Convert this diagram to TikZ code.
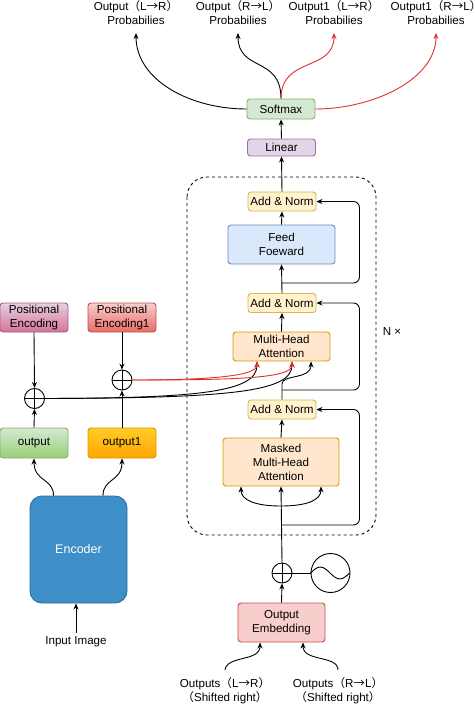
\documentclass[tikz,border=0pt]{standalone}
\usepackage{fontspec}
\setmainfont{Liberation Sans}
\newfontfamily\cjk{Noto Sans CJK SC}
\usetikzlibrary{arrows.meta,positioning,calc}

\definecolor{addfill}{HTML}{FFF2CC}\definecolor{addline}{HTML}{D6B656}
\definecolor{mhafill}{HTML}{FFE6CC}\definecolor{mhaline}{HTML}{D79B00}
\definecolor{fffill}{HTML}{DAE8FC}\definecolor{ffline}{HTML}{6C8EBF}
\definecolor{linfill}{HTML}{E1D5E7}\definecolor{linline}{HTML}{9673A6}
\definecolor{smfill}{HTML}{D5E8D4}\definecolor{smline}{HTML}{82B366}
\definecolor{embfill}{HTML}{F8CECC}\definecolor{embline}{HTML}{B85450}
\definecolor{encfill}{HTML}{3E8FC8}\definecolor{encline}{HTML}{2F6EA0}
\definecolor{redline}{HTML}{E0302A}
\definecolor{outbot}{HTML}{97D077}
\definecolor{otop}{HTML}{FFCD28}\definecolor{obot}{HTML}{FFA500}
\definecolor{petop}{HTML}{E6D0DE}\definecolor{pebot}{HTML}{D5739D}\definecolor{peline}{HTML}{996185}
\definecolor{pe1bot}{HTML}{EA6B66}

\newcommand{\lp}{{\cjk （}}
\newcommand{\rp}{{\cjk ）}}
\newcommand{\ra}{{\cjk →}}

\begin{document}
\begin{tikzpicture}[x=1pt,y=-1pt,line width=0.9pt,font=\fontsize{11.6}{14}\selectfont,
    box/.style={draw,rounded corners=3pt,align=center,inner sep=1pt},
    addnorm/.style={box,fill=addfill,draw=addline,minimum width=68pt,minimum height=19pt},
    mhabox/.style={box,fill=mhafill,draw=mhaline},
    arr/.style={-{Stealth[length=6pt,width=5pt]}},
    toplbl/.style={align=center,inner xsep=0pt,inner ysep=8pt,anchor=south},
    botlbl/.style={align=center,inner xsep=0pt,inner ysep=7pt,anchor=north},
    plus/.style={draw,circle,minimum size=20pt,inner sep=0pt,
      path picture={\draw (path picture bounding box.north) -- (path picture bounding box.south)
        (path picture bounding box.west) -- (path picture bounding box.east);}}]
\useasboundingbox (0,0) rectangle (474,704);

% decoder stack
\draw[dashed,dash pattern=on 3pt off 3pt,rounded corners=20pt] (187,177) rectangle (376,535);
\node (nx) at (392,332) {N ×};
\node[addnorm] (an3) at (282,201.5) {Add \& Norm};
\node[box,fill=fffill,draw=ffline,minimum width=107pt,minimum height=39pt] (ff) at (281.5,244.5) {Feed\\Foeward};
\node[addnorm] (an2) at (282,303) {Add \& Norm};
\node[mhabox,minimum width=97pt,minimum height=29pt] (mha) at (281.5,346.5) {Multi-Head\\Attention};
\node[addnorm] (an1) at (282,409.5) {Add \& Norm};
\node[mhabox,minimum width=116pt,minimum height=48pt] (mmha) at (281,462) {Masked\\Multi-Head\\Attention};

% top
\node[box,fill=linfill,draw=linline,minimum width=68pt,minimum height=17pt] (lin) at (281.5,147.5) {Linear};
\node[box,fill=smfill,draw=smline,minimum width=68pt,minimum height=20pt] (sm) at (281,109) {Softmax};
\node[toplbl] (p1) at (136,33) {Output\lp L\ra R\rp\\Probabilies};
\node[toplbl] (p2) at (238,33) {Output\lp R\ra L\rp\\Probabilies};
\node[toplbl] (p3) at (334,33) {Output1\lp L\ra R\rp\\Probabilies};
\node[toplbl] (p4) at (436,33) {Output1\lp R\ra L\rp\\Probabilies};

% bottom
\node[plus] (pe0) at (282,573) {};
\node[draw,circle,minimum size=39pt,inner sep=0pt] (sine) at (330.5,573) {};
\node[box,fill=embfill,draw=embline,minimum width=87pt,minimum height=39pt] (emb) at (281.5,622.5) {Output\\Embedding};
\node[botlbl] (s1) at (225,670) {Outputs\lp L\ra R\rp\\\lp Shifted right\rp};
\node[botlbl] (s2) at (338,670) {Outputs\lp R\ra L\rp\\\lp Shifted right\rp};

% encoder side
\node[box,rounded corners=12pt,fill=encfill,draw=encline,text=white,minimum width=97pt,minimum height=107pt,font=\fontsize{12.5}{14}\selectfont] (enc) at (78.5,549.5) {Encoder};
\node (img) at (76,642) {Input Image};
\node[box,top color=smfill,bottom color=outbot,draw=smline,minimum width=68pt,minimum height=30pt] (out) at (34,443) {output};
\node[box,top color=otop,bottom color=obot,draw=mhaline,minimum width=68pt,minimum height=30pt] (out1) at (122,443) {output1};
\node[box,top color=petop,bottom color=pebot,draw=peline,minimum width=68pt,minimum height=29pt] (pe) at (34,317.5) {Positional\\Encoding};
\node[box,top color=embfill,bottom color=pe1bot,draw=embline,minimum width=68pt,minimum height=29pt] (pe1) at (122,317.5) {Positional\\Encoding1};
\node[plus] (peL) at (34.5,398.5) {};
\node[plus] (peR) at (122,380) {};

% wave
\draw (sine.west) sin ++(9.75,-6) cos ++(9.75,6) sin ++(9.75,6) cos ++(9.75,-6);

% connectors
\draw[arr] (s1.north) .. controls (227,655) and (260,662) .. ($(emb.south)+(-21.5,0)$);
\draw[arr] (s2.north) .. controls (338,655) and (303,662) .. ($(emb.south)+(21.5,0)$);
\draw[arr] (emb.north) -- (pe0.south);
\draw (pe0.east) -- (sine.west);
\draw[arr] (pe0.north) -- (mmha.south);
\coordinate (m0) at (281,506);
\draw[arr] (m0) .. controls (255,506) and (241,500) .. ($(mmha.south)+(-40,0)$);
\draw[arr] (m0) .. controls (307,506) and (321,500) .. ($(mmha.south)+(40,0)$);
\coordinate (r1) at (282,525);
\draw[arr,rounded corners=6pt] (r1) -| ($(an1.east)+(43,0)$) -- (an1.east);
\draw[arr] (mmha.north) -- (an1.south);
\coordinate (r2) at (282,390);
\draw[arr,rounded corners=6pt] (r2) -| ($(an2.east)+(43,0)$) -- (an2.east);
\draw[arr] (an1.north) -- (282,384) .. controls (282,374) and (311,380) .. ($(mha.south)+(29.5,0)$);
\draw[arr] (mha.north) -- (an2.south);
\draw[arr] (an2.north) -- (ff.south);
\coordinate (r3) at (282,283);
\draw[arr,rounded corners=6pt] (r3) -| ($(an3.east)+(43,0)$) -- (an3.east);
\draw[arr] (ff.north) -- (an3.south);
\draw[arr] (an3.north) -- (lin.south);
\draw[arr] (lin.north) -- (sm.south);
\draw[arr] (sm.west) .. controls (190,109) and (136,80) .. (p1.south);
\draw[arr] (sm.north) .. controls (281,56) and (238,72) .. (p2.south);
\draw[arr,redline] (sm.north) .. controls (281,56) and (334,72) .. (p3.south);
\draw[arr,redline] (sm.east) .. controls (372,109) and (436,80) .. (p4.south);

% encoder outputs
\draw[arr] (img.north) -- (img.north |- enc.south);
\draw[arr] ($(enc.north)+(-25,0)$) .. controls (53.5,478) and (34,482) .. (out.south);
\draw[arr] ($(enc.north)+(24.5,0)$) .. controls (103,478) and (122,482) .. (out1.south);
\draw[arr] (out.north) -- (peL.south);
\draw[arr] (out1.north) -- (peR.south);
\draw[arr] (pe.south) -- (peL.north);
\draw[arr] (pe1.south) -- (peR.north);
\draw[arr] (peL.east) .. controls (200,398) and (257,392) .. ($(mha.south)+(-24.5,0)$);
\draw[arr] (peL.east) .. controls (230,398) and (292,392) .. ($(mha.south)+(10.5,0)$);
\draw[arr,redline] (peR.east) .. controls (210,380) and (257,376) .. ($(mha.south)+(-24.5,0)$);
\draw[arr,redline] (peR.east) .. controls (240,380) and (292,378) .. ($(mha.south)+(10.5,0)$);
\end{tikzpicture}
\end{document}
